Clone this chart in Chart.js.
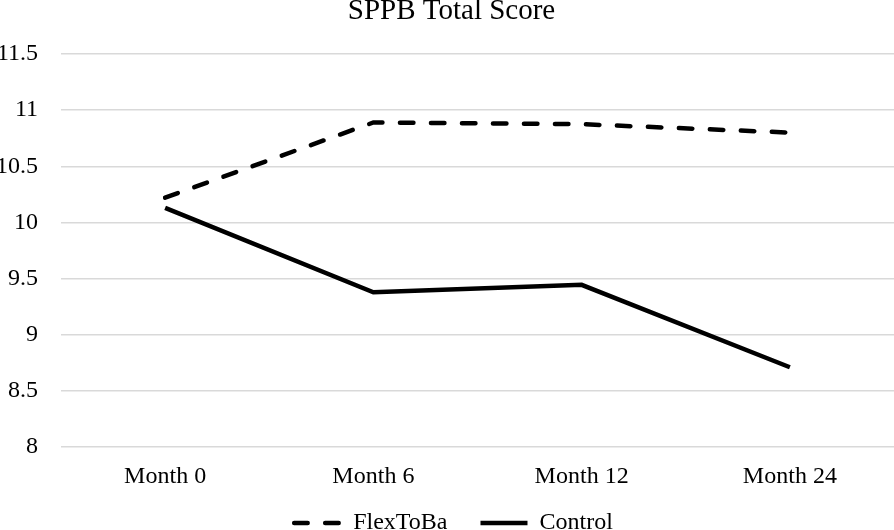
<!DOCTYPE html>
<html>
<head>
<meta charset="utf-8">
<script src="https://cdn.jsdelivr.net/npm/chart.js@4/dist/chart.umd.min.js"></script>
<style>
html, body { margin: 0; padding: 0; background: #fff; overflow: hidden; width: 894px; height: 530px; }
#wrap { position: absolute; left: 0; top: -9px; width: 894px; height: 567px; }
</style>
</head>
<body>
<div id="wrap"><canvas id="sppbChart" width="894" height="567"></canvas></div>
<script>
const months = ["Month 0", "Month 6", "Month 12", "Month 24"];
const flexToBa = [10.22, 10.89, 10.875, 10.80];
const control = [10.13, 9.378, 9.444, 8.71];
const yTicks = [8, 8.5, 9, 9.5, 10, 10.5, 11, 11.5];

const serif = "'Liberation Serif', 'Times New Roman', serif";
const dash = [13.5, 17.5];

// the original centres title and legend a little right of the canvas middle,
// and pulls the legend up closer to the axis labels
const nudgeBoxes = {
  id: "nudgeBoxes",
  afterLayout(chart) {
    const lg = chart.legend;
    lg.left += 6.5; lg.right += 6.5;
    lg.top -= 13; lg.bottom -= 13;
    const tt = chart.titleBlock;
    tt.left += 4.5; tt.right += 4.5;
  }
};

new Chart(document.getElementById("sppbChart"), {
  type: "line",
  data: {
    labels: months,
    datasets: [
      {
        label: "FlexToBa",
        data: flexToBa,
        borderColor: "#000",
        backgroundColor: "#000",
        borderWidth: 4.5,
        borderDash: dash,
        borderCapStyle: "round",
        pointRadius: 0,
        tension: 0
      },
      {
        label: "Control",
        data: control,
        borderColor: "#000",
        backgroundColor: "#000",
        borderWidth: 4.5,
        borderCapStyle: "butt",
        pointRadius: 0,
        tension: 0
      }
    ]
  },
  options: {
    responsive: false,
    animation: false,
    layout: { padding: 0 },
    plugins: {
      title: {
        display: true,
        text: "SPPB Total Score",
        color: "#000",
        font: { family: serif, size: 29, weight: "normal" },
        padding: { top: 3, bottom: 25.2 }
      },
      legend: {
        position: "bottom",
        labels: {
          color: "#000",
          font: { family: serif, size: 24 },
          usePointStyle: true,
          pointStyle: "line",
          pointStyleWidth: 47,
          padding: 33,
          generateLabels: chart => {
            const items = Chart.defaults.plugins.legend.labels.generateLabels(chart);
            items.forEach(item => {
              const ds = chart.data.datasets[item.datasetIndex];
              item.lineDash = ds.borderDash || [];
              item.lineWidth = ds.borderWidth;
              item.lineCap = ds.borderCapStyle;
              item.strokeStyle = "#000";
            });
            return items;
          }
        }
      },
      tooltip: { enabled: false }
    },
    scales: {
      x: {
        offset: true,
        grid: { display: false, drawTicks: false },
        border: { display: false },
        ticks: {
          color: "#000",
          font: { family: serif, size: 24 },
          padding: 15,
          maxRotation: 0
        },
        afterFit: scale => { scale.height = 44; }
      },
      y: {
        min: 8,
        max: 11.5,
        grid: { color: "#d9d9d9", lineWidth: 1.5, drawTicks: false },
        border: { display: false },
        afterBuildTicks: scale => { scale.ticks = yTicks.map(v => ({ value: v })); },
        ticks: {
          color: "#000",
          font: { family: serif, size: 24 },
          padding: 23,
          callback: v => String(v)
        },
        afterFit: scale => { scale.width = 61; }
      }
    }
  },
  plugins: [nudgeBoxes]
});
</script>
</body>
</html>
